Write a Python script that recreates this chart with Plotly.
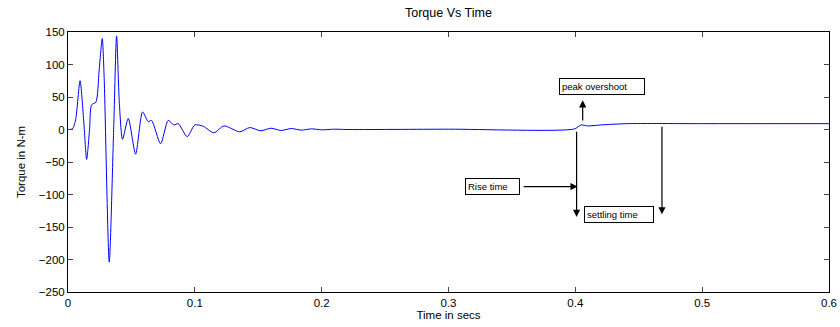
import plotly.graph_objects as go

time_s = [0, 0.0035, 0.006, 0.0095, 0.0125, 0.0147, 0.017, 0.0186, 0.022, 0.0245, 0.027,
          0.0285, 0.0325, 0.036, 0.0383, 0.0405, 0.043, 0.0475, 0.0533, 0.0588, 0.0633,
          0.0659, 0.073, 0.079, 0.0835, 0.0869, 0.094, 0.1, 0.1066, 0.115, 0.123, 0.1354,
          0.1433, 0.152, 0.16, 0.168, 0.176, 0.184, 0.192, 0.2, 0.21, 0.22, 0.3, 0.3992,
          0.4045, 0.41, 0.42, 0.441, 0.5, 0.6]
torque = [0, 1, 15, 75, 10, -46, 0, 38, 42, 90, 140,
          80, -204, 0, 144, 40, -15, 17, -38, 27, 12,
          14, -22, 14, 7, 9, -11, 7, 5, -5, 5.5, -3.5,
          3, -2, 2, -1.5, 1.5, -1, 1, -0.5, 0.5, 0, 0.5, 0.8,
          7, 5.5, 7, 9, 9, 9]

x_ticks = [0, 0.1, 0.2, 0.3, 0.4, 0.5, 0.6]
x_tick_labels = ["0", "0.1", "0.2", "0.3", "0.4", "0.5", "0.6"]
y_ticks = [-250, -200, -150, -100, -50, 0, 50, 100, 150]

# annotation boxes: (text, left x, center y, box width px)
boxes = [("peak overshoot", 0.3874, 66.5, 80), ("Rise time", 0.3130, -87.8, 49),
         ("settling time", 0.4071, -131, 64)]
# arrows: (head_x, head_y, tail_x, tail_y)
arrows = [(0.4058, 45, 0.4058, 11.5), (0.4018, -87.8, 0.3581, -87.8),
          (0.401, -134.6, 0.401, -1.2), (0.4683, -130.5, 0.4683, 6.5)]

font = "Liberation Sans, Arial, sans-serif"
fig = go.Figure()
fig.add_trace(go.Scatter(x=time_s, y=torque, mode="lines",
                         line=dict(color="#0000ff", width=1, shape="spline", smoothing=0.7),
                         showlegend=False, hoverinfo="skip"))

annotations = []
for hx, hy, tx, ty in arrows:
    annotations.append(dict(x=hx, y=hy, ax=tx, ay=ty, xref="x", yref="y", axref="x", ayref="y",
                            text="", showarrow=True, arrowhead=2, arrowsize=1.2, arrowwidth=1.2,
                            arrowcolor="#000000"))
for t, x, y, w in boxes:
    annotations.append(dict(x=x, y=y, xref="x", yref="y", xanchor="left", text=t, showarrow=False,
                            width=w, align="left",
                            font=dict(family=font, size=9.5, color="#000"),
                            bordercolor="#000", borderwidth=1, bgcolor="#fff", borderpad=2))
annotations.append(dict(x=0.5, y=1.0, xref="paper", yref="paper", yanchor="bottom", yshift=10,
                        text="Torque Vs Time", showarrow=False,
                        font=dict(family=font, size=12.5, color="#000")))

fig.update_layout(
    width=840, height=327,
    margin=dict(l=68, r=11, t=32, b=35),
    paper_bgcolor="#fff", plot_bgcolor="#fff",
    font=dict(family=font, size=11.5, color="#000"),
    annotations=annotations,
    xaxis=dict(range=[0, 0.6], tickvals=x_ticks, ticktext=x_tick_labels, ticks="inside",
               ticklen=5, showline=True, linecolor="#000", linewidth=1, mirror="ticks",
               showgrid=False, zeroline=False, automargin=False,
               title=dict(text="Time in secs", standoff=1, font=dict(size=11.5))),
    yaxis=dict(range=[-250, 150], tickvals=y_ticks, ticks="inside", ticklen=5,
               showline=True, linecolor="#000", linewidth=1, mirror="ticks",
               showgrid=False, zeroline=False, automargin=False,
               title=dict(text="Torque in N-m", standoff=10, font=dict(size=11.5))),
)
# remove the browser's default 8px page margin so the figure sits at the window origin
fig.write_html("out.html", config={"displayModeBar": False},
               post_script="document.body.style.margin='0';")
